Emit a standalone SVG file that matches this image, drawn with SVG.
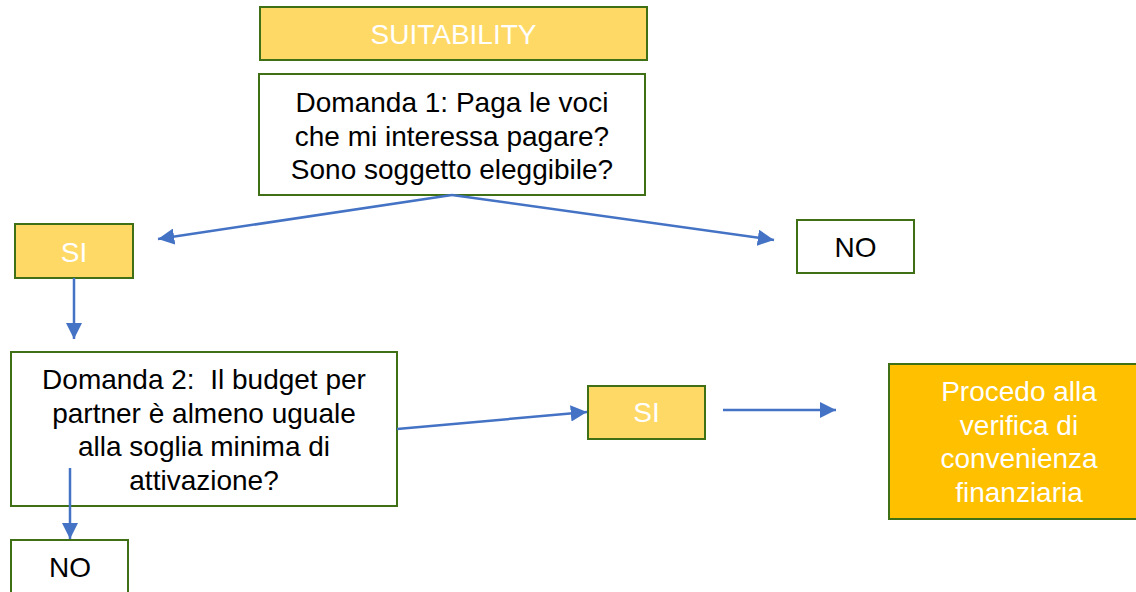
<svg xmlns="http://www.w3.org/2000/svg" width="1136" height="592" viewBox="0 0 1136 592">
<style>
  .box { stroke: #3F7015; stroke-width: 2; }
  .y { fill: #FFD966; }
  .o { fill: #FFC000; }
  .w { fill: #FFFFFF; }
  text { font-family: "Liberation Sans", Arial, sans-serif; font-size: 28px; text-anchor: middle; }
  .tw { fill: #FFFFFF; }
  .tb { fill: #000000; }
  .c { stroke: #4472C4; stroke-width: 2.5; fill: none; marker-end: url(#ah); }
</style>
<defs>
  <marker id="ah" viewBox="0 0 10 10" refX="10" refY="5" markerWidth="6.5" markerHeight="6.5" markerUnits="strokeWidth" orient="auto">
    <path d="M0,0 L10,5 L0,10 z" fill="#4472C4"/>
  </marker>
</defs>
<rect width="1136" height="592" fill="#FFFFFF"/>
<g id="suitability">
  <rect class="box y" x="260" y="7" width="387" height="53"/>
  <text class="tw" x="453.5" y="44">SUITABILITY</text>
</g>
<g id="domanda1">
  <rect class="box w" x="259" y="74" width="386" height="121"/>
  <text class="tb" x="452" y="112">Domanda 1: Paga le voci</text>
  <text class="tb" x="452" y="145.6">che mi interessa pagare?</text>
  <text class="tb" x="452" y="179.2">Sono soggetto eleggibile?</text>
</g>
<g id="si1">
  <rect class="box y" x="15" y="224" width="118" height="54"/>
  <text class="tw" x="74" y="262">SI</text>
</g>
<g id="no1">
  <rect class="box w" x="797" y="220" width="117" height="53"/>
  <text class="tb" x="855.5" y="257">NO</text>
</g>
<g id="domanda2">
  <rect class="box w" x="11" y="352" width="386" height="154"/>
  <text class="tb" x="204" y="389">Domanda 2:&#160; Il budget per</text>
  <text class="tb" x="204" y="422.6">partner è almeno uguale</text>
  <text class="tb" x="204" y="456.2">alla soglia minima di</text>
  <text class="tb" x="204" y="489.8">attivazione?</text>
</g>
<g id="si2">
  <rect class="box y" x="588" y="386" width="117" height="53"/>
  <text class="tw" x="646.5" y="422">SI</text>
</g>
<g id="procedo">
  <rect class="box o" x="889" y="364" width="262" height="155"/>
  <text class="tw" x="1019" y="401">Procedo alla</text>
  <text class="tw" x="1019" y="434.6">verifica di</text>
  <text class="tw" x="1019" y="468.2">convenienza</text>
  <text class="tw" x="1019" y="501.8">finanziaria</text>
</g>
<g id="no2">
  <rect class="box w" x="11" y="540" width="117" height="60"/>
  <text class="tb" x="70" y="577">NO</text>
</g>
<g id="connectors">
  <line class="c" x1="452" y1="195" x2="158" y2="239"/>
  <line class="c" x1="452" y1="195" x2="774" y2="240"/>
  <line class="c" x1="74" y1="278" x2="74" y2="339"/>
  <line class="c" x1="70" y1="468" x2="70" y2="539"/>
  <line class="c" x1="397" y1="429" x2="587" y2="412"/>
  <line class="c" x1="723" y1="410" x2="836" y2="410"/>
</g>
</svg>
